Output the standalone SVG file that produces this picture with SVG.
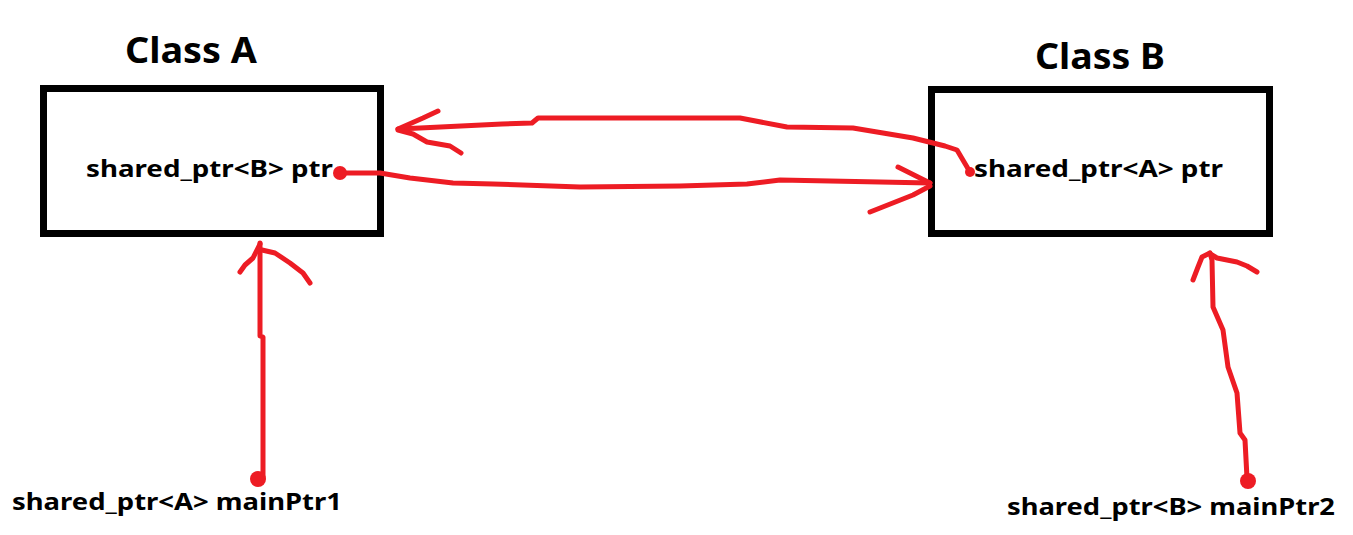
<svg xmlns="http://www.w3.org/2000/svg" width="1353" height="535" viewBox="0 0 1353 535">
<style>
.box{fill:#fff;stroke:#000;stroke-width:7}
.title{font-family:"Noto Sans","Open Sans","Liberation Sans",sans-serif;font-weight:bold;font-size:35px;fill:#000}
.lbl{font-family:"Noto Sans","Open Sans","Liberation Sans",sans-serif;font-weight:bold;font-size:23px;fill:#000}
.red{fill:none;stroke:#ED1C24;stroke-width:5;stroke-linecap:round;stroke-linejoin:round}
.dot{fill:#ED1C24}
</style>
<rect width="1353" height="535" fill="#fff"/>
<g id="classA">
<text class="title" x="125" y="63" textLength="132" lengthAdjust="spacingAndGlyphs">Class A</text>
<rect class="box" x="43.5" y="88.5" width="337" height="145"/>
<text class="lbl" x="86" y="177" textLength="247" lengthAdjust="spacingAndGlyphs">shared_ptr&lt;B&gt; ptr</text>
</g>
<g id="classB">
<text class="title" x="1035" y="69" textLength="130" lengthAdjust="spacingAndGlyphs">Class B</text>
<rect class="box" x="931.5" y="89.5" width="338" height="144"/>
<text class="lbl" x="974" y="177" textLength="249" lengthAdjust="spacingAndGlyphs">shared_ptr&lt;A&gt; ptr</text>
</g>
<g id="mainPtr1">
<text class="lbl" x="12" y="510" font-size="24" textLength="330" lengthAdjust="spacingAndGlyphs">shared_ptr&lt;A&gt; mainPtr1</text>
</g>
<g id="mainPtr2">
<text class="lbl" x="1007" y="515" font-size="24" textLength="328" lengthAdjust="spacingAndGlyphs">shared_ptr&lt;B&gt; mainPtr2</text>
</g>
<g id="connectors">
<path class="red" d="M970,172 L957,150 L945,146 L933,143 L913,138 L853,128 L787,127 L740,118 L538,118 L532,123 L502,124 L420,128 L398,129"/>
<path class="red" d="M398,129 L423,118 L438,111"/>
<path class="red" d="M398,130 L413,134 L427,142 L450,146 L461,153"/>
<circle class="dot" cx="970" cy="172" r="5"/>
<path class="red" d="M340,173 L380,173 L410,178 L453,183 L493,184 L580,187 L680,186 L747,184 L780,180 L930,183"/>
<path class="red" d="M898,167 L930,183"/>
<path class="red" d="M930,186 L913,195 L870,212"/>
<circle class="dot" cx="340" cy="173" r="7"/>
<path class="red" d="M263,478 L263,337 L260,336 L260,243"/>
<path class="red" d="M260,244 L253,258 L245,265 L240,272"/>
<path class="red" d="M262,250 L275,253 L290,263 L303,273 L310,283"/>
<circle class="dot" cx="258" cy="479" r="8"/>
<path class="red" d="M1247,478 L1245,440 L1240,433 L1237,393 L1228,367 L1223,330 L1213,307 L1212,260 L1210,253"/>
<path class="red" d="M1210,253 L1202,257 L1198,267 L1193,280"/>
<path class="red" d="M1212,255 L1217,258 L1237,262 L1247,266 L1257,272"/>
<circle class="dot" cx="1248" cy="481" r="8"/>
</g>
</svg>
